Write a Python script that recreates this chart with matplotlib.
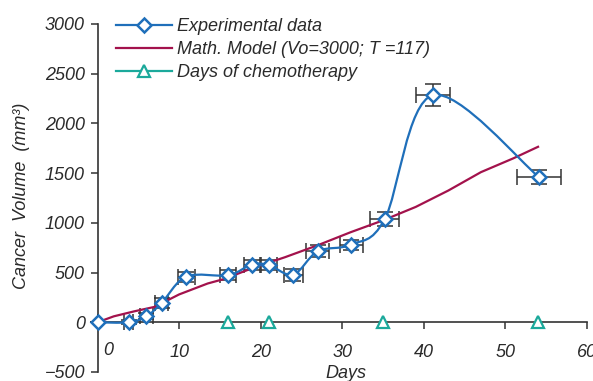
import numpy as np
import matplotlib
matplotlib.use("Agg")
import matplotlib.pyplot as plt
from matplotlib.path import Path
from matplotlib.patches import PathPatch
from matplotlib.lines import Line2D

plt.rcParams['font.family'] = ['Liberation Sans', 'DejaVu Sans']
plt.rcParams['font.style'] = 'italic'

# experimental measurements
exp_days = [0, 3.8, 6.0, 7.9, 10.9, 16.0, 18.9, 21.0, 24.0, 27.0, 31.1, 35.2, 41.1, 54.1]
exp_vol = [0, 0, 60, 198, 460, 473, 580, 575, 480, 714, 782, 1036, 2284, 1462]
exp_xerr = [0, 0.5, 0.8, 0.8, 1.0, 1.0, 1.0, 1.0, 1.2, 1.4, 1.4, 1.8, 2.1, 2.7]
exp_yerr = [0, 20, 30, 50, 50, 50, 50, 50, 60, 60, 50, 70, 110, 70]

# math model (Vo=3000; T=117)
model_days = [0, 2, 4.5, 7, 10, 13.5, 15.5, 19, 23, 27, 31, 35, 39, 43, 47, 51, 54]
model_vol = [0, 60, 110, 155, 280, 390, 435, 545, 655, 775, 905, 1025, 1160, 1325, 1510, 1650, 1765]

# chemotherapy days
chemo_days = [16, 21, 35, 54]
chemo_vol = [0, 0, 0, 0]

BLUE = '#1f6fba'
RED = '#a3124c'
TEAL = '#1ba99b'
TXT = '#2a2a2a'
FS = 13


def smooth_path(xs, ys, t=1/6):
    # Excel-style smoothed line: cubic Bezier through every point
    pts = np.column_stack([xs, ys]).astype(float)
    n = len(pts)
    verts = [pts[0]]
    codes = [Path.MOVETO]
    for i in range(n - 1):
        p0 = pts[max(i - 1, 0)]
        p1 = pts[i]
        p2 = pts[i + 1]
        p3 = pts[min(i + 2, n - 1)]
        c1 = p1 + (p2 - p0) * t
        c2 = p2 - (p3 - p1) * t
        verts += [c1, c2, p2]
        codes += [Path.CURVE4] * 3
    return Path(verts, codes)


fig = plt.figure(figsize=(5.93, 3.81), dpi=100)
ax = fig.add_axes([97.5 / 593, 1 - 372 / 381, (587 - 97.5) / 593, (372 - 24) / 381])

ax.set_xlim(0, 60)
ax.set_ylim(-500, 3000)

ax.errorbar(exp_days, exp_vol, xerr=exp_xerr, yerr=exp_yerr, fmt='none',
            ecolor='#333333', elinewidth=1.1, capsize=5.5, capthick=1.1, zorder=2, clip_on=False)
ax.plot(model_days, model_vol, color=RED, lw=1.6, zorder=3)
ax.add_patch(PathPatch(smooth_path(exp_days, exp_vol), fill=False, edgecolor=BLUE, lw=1.6, zorder=4))
ax.plot(exp_days, exp_vol, ls='none', marker='D', ms=7.2, mfc='white', mec=BLUE, mew=1.8,
        zorder=5, clip_on=False)
ax.plot(chemo_days, chemo_vol, ls='none', marker='^', ms=9, mfc='white', mec=TEAL, mew=1.6,
        zorder=6, clip_on=False)

for s in ['top', 'right']:
    ax.spines[s].set_visible(False)
ax.spines['bottom'].set_position(('data', 0))
for s in ['left', 'bottom']:
    ax.spines[s].set_color('#333333')
    ax.spines[s].set_linewidth(1.2)

ax.set_xticks(range(10, 61, 10))
ax.set_xticklabels([str(v) for v in range(10, 61, 10)])
ax.set_yticks(range(-500, 3001, 500))
ax.tick_params(axis='x', direction='out', length=5, width=1.1, color='#333333',
               pad=10.5, labelsize=FS, labelcolor=TXT)
ax.tick_params(axis='y', direction='out', length=5, width=1.1, color='#333333',
               pad=4, labelsize=FS, labelcolor=TXT)
for lab in ax.get_xticklabels() + ax.get_yticklabels():
    lab.set_fontstyle('italic')

# the "0" day label sits right of the vertical axis
ax.annotate('0', xy=(0, 0), xycoords='data', xytext=(11, -28), textcoords='offset pixels',
            ha='center', va='center', fontsize=FS, color=TXT, style='italic')
ax.annotate('Days', xy=(30.5, -500), xycoords='data', xytext=(0, -6), textcoords='offset pixels',
            ha='center', va='baseline', fontsize=FS, color=TXT, style='italic',
            annotation_clip=False)
fig.text(22 / 593, 1 - 196 / 381, 'Cancer  Volume  (mm³)', rotation=90, ha='center', va='center',
         fontsize=FS, color=TXT, style='italic')

handles = [
    Line2D([], [], color=BLUE, lw=1.6, marker='D', ms=7.2, mfc='white', mec=BLUE, mew=1.8),
    Line2D([], [], color=RED, lw=1.6),
    Line2D([], [], color=TEAL, lw=1.6, marker='^', ms=9, mfc='white', mec=TEAL, mew=1.6),
]
labels = ['Experimental data', 'Math. Model (Vo=3000; T =117)', 'Days of chemotherapy']
leg = fig.legend(handles, labels, loc='upper left', bbox_to_anchor=(116 / 593, 1 - 18 / 381),
                 frameon=False, fontsize=FS, handlelength=3.1, handletextpad=0.3,
                 labelspacing=0.34, borderpad=0, borderaxespad=0)
for t in leg.get_texts():
    t.set_color(TXT)
    t.set_fontstyle('italic')

fig.savefig('out.png', dpi=100)
